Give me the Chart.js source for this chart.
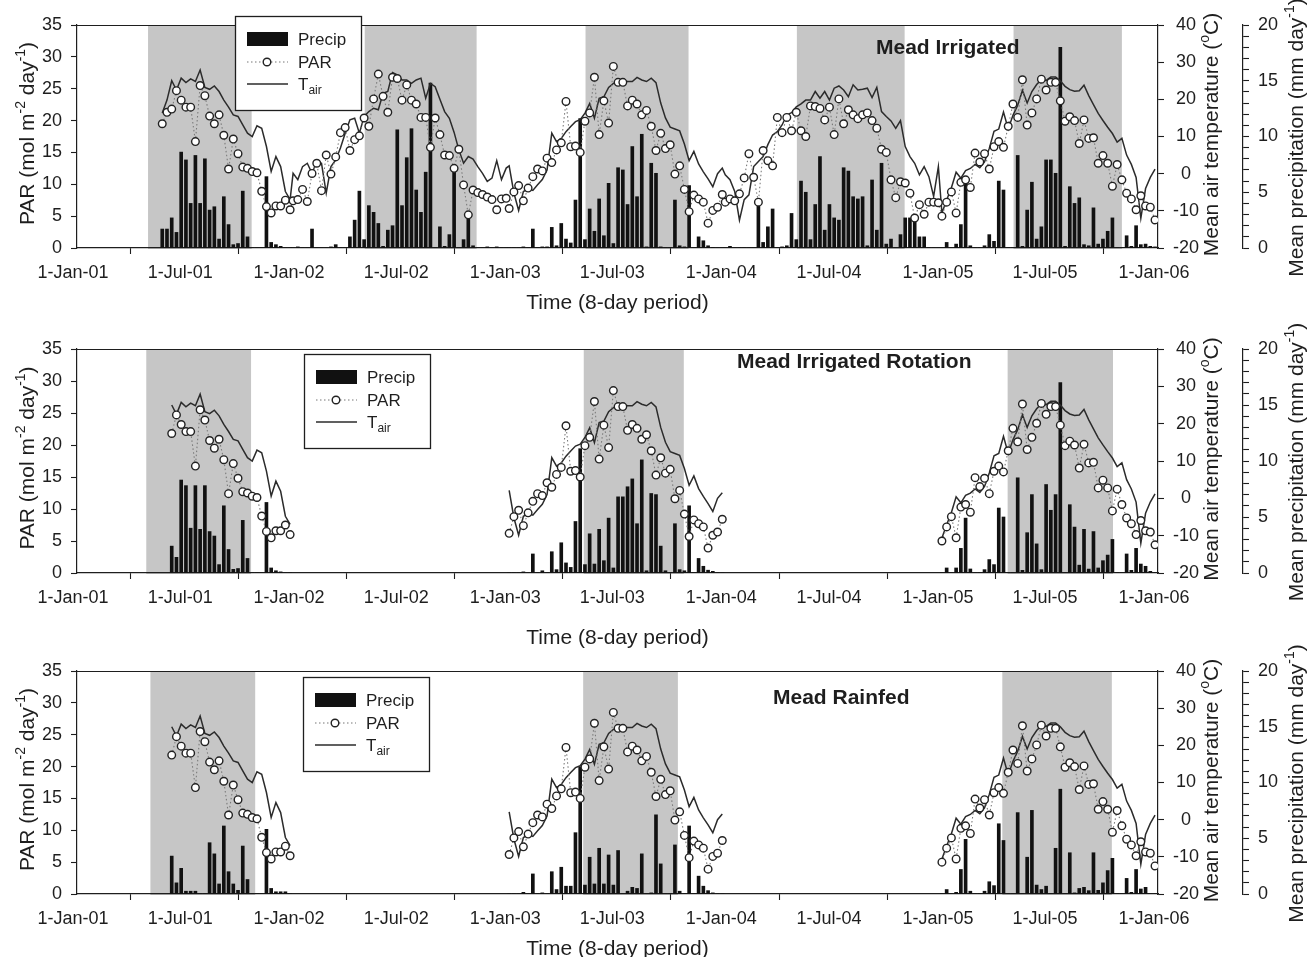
<!DOCTYPE html>
<html>
<head>
<meta charset="utf-8">
<script src="https://cdn.jsdelivr.net/npm/chart.js@4.4.1/dist/chart.umd.min.js"></script>
<style>
  html, body { margin: 0; padding: 0; background: #ffffff; }
  #wrap { position: relative; width: 1316px; height: 957px; overflow: hidden; }
  #wrap canvas { position: absolute; left: 0; top: 0; }
</style>
</head>
<body>
<div id="wrap">
  <canvas id="panel1" width="1316" height="957"></canvas>
  <canvas id="panel2" width="1316" height="957"></canvas>
  <canvas id="panel3" width="1316" height="957"></canvas>
</div>
<script>
// 8-day periods (start day of year)
const periodDoy = [1, 9, 17, 25, 33, 41, 49, 57, 65, 73, 81, 89, 97, 105, 113, 121, 129, 137, 145, 153, 161, 169, 177,
  185, 193, 201, 209, 217, 225, 233, 241, 249, 257, 265, 273, 281, 289, 297, 305, 313, 321, 329, 337, 345, 353, 361];

// x axis ticks
const tickDates = ['2001-01-01', '2001-07-01', '2002-01-01', '2002-07-01', '2003-01-01', '2003-07-01',
  '2004-01-01', '2004-07-01', '2005-01-01', '2005-07-01', '2006-01-01'];
const tickLabels = ['1-Jan-01', '1-Jul-01', '1-Jan-02', '1-Jul-02', '1-Jan-03', '1-Jul-03',
  '1-Jan-04', '1-Jul-04', '1-Jan-05', '1-Jul-05', '1-Jan-06'];

// PAR (mol m-2 day-1)
const par2001 = [null, null, null, null, null, null, null, null, null, null, null, null, null, null, null, null, null, null,
  19.5, 21.3, 21.8, 24.7, 23.2, 22.1, 22.1, 16.7, 25.5, 23.9, 20.7, 19.5, 20.9, 17.7, 12.4, 17.1, 14.8, 12.7,
  12.5, 12.0, 11.8, 8.9, 6.5, 5.5, 6.6, 6.6, 7.5, 6.0];
const par2002 = [7.4, 7.6, 9.2, 7.3, 11.7, 13.3, 9.0, 14.6, 11.6, 14.3, 18.1, 18.9, 15.3, 17.0, 17.6, 20.4, 19.1, 23.4,
  27.3, 23.8, 21.3, 26.8, 26.6, 23.2, 25.6, 23.2, 22.6, 20.5, 20.5, 15.8, 20.4, 17.8, 14.6, 14.5, 12.5, 15.5, 9.9,
  5.2, 9.1, 8.7, 8.4, 8.0, 7.6, 6.0, 7.7, 7.8];
const par2003 = [6.2, 8.8, 9.8, 7.4, 9.4, 11.2, 12.4, 12.1, 14.1, 13.4, 15.4, 16.5, 23.0, 15.9, 16.0, 15.0, 19.9, 21.2,
  26.8, 17.8, 23.1, 19.6, 28.5, 26.0, 26.0, 22.3, 23.2, 22.6, 20.9, 21.6, 19.1, 15.3, 18.0, 15.6, 16.2, 11.6, 12.9,
  9.2, 5.7, 8.3, 7.7, 7.2, 3.9, 5.9, 6.4, 8.4];
const par2004 = [7.2, 7.7, 7.4, 8.5, 11.0, 14.8, 11.1, 7.2, 15.3, 13.7, 12.9, 20.5, 18.1, 20.5, 18.4, 21.3, 18.4, 17.5,
  22.3, 22.2, 21.9, 20.1, 22.1, 17.8, 23.4, 19.5, 21.7, 20.9, 20.3, 20.9, 21.2, 20.0, 18.8, 15.5, 15.0, 10.7, 7.9,
  10.4, 10.2, 8.6, 4.7, 6.8, 5.3, 7.2, 7.2, 7.1];
const par2005 = [5.0, 7.2, 8.8, 5.5, 10.3, 10.7, 9.5, 14.9, 13.5, 14.8, 12.4, 15.9, 16.7, 15.8, 19.1, 22.6, 20.5, 26.4,
  19.3, 21.2, 23.4, 26.5, 24.8, 26.0, 26.0, 23.1, 19.9, 20.6, 20.0, 16.4, 20.1, 17.2, 17.3, 13.3, 14.5, 13.3, 9.7,
  13.1, 10.7, 8.6, 7.7, 6.0, 8.2, 6.6, 6.4, 4.4];

// mean air temperature (deg C)
const tair2001 = [null, null, null, null, null, null, null, null, null, null, null, null, null, null, null, null, null, null,
  16.3, 19.8, 25.0, 22.5, 25.7, 24.5, 25.5, 24.8, 27.9, 23.2, 22.7, 23.6, 22.1, 19.8, 17.9, 15.8, 15.4, 13.1,
  10.9, 10.0, 12.9, 12.2, 7.3, 0.6, 4.6, 1.9, -4.8, -7.0];
const tair2002 = [0.1, -1.6, 1.9, 2.8, 0.1, 3.3, 2.8, -5.2, 1.9, 3.7, 6.9, 10.9, 14.5, 14.9, 10.9, 15.4, 16.7, 17.6,
  17.2, 21.6, 22.1, 27.2, 26.6, 25.2, 25.2, 24.3, 25.2, 25.7, 20.3, 24.3, 23.4, 20.0, 16.7, 14.9, 11.1, 6.4, 2.8,
  4.6, 3.9, 1.9, 0.1, -2.1, -1.2, 3.5, -1.6, 1.5];
const tair2003 = [2.1, -5.2, -9.9, -4.8, -4.1, -4.5, -3.0, -1.6, 1.0, 10.9, 8.6, 9.5, 11.3, 12.7, 14.0, 14.5, 16.3, 18.9,
  14.9, 20.3, 20.7, 23.2, 24.3, 24.5, 25.2, 24.8, 24.8, 25.9, 25.2, 24.8, 25.7, 24.5, 19.0, 15.0, 12.5, 12.0, 11.5,
  8.0, 3.5, 6.0, 2.6, 0.5, -1.4, -3.5, 0.0, 1.5];
const tair2004 = [-0.3, -1.6, -4.8, -12.5, -7.0, -5.7, 1.9, 3.3, 4.6, 7.8, 10.4, 11.3, 13.1, 15.8, 16.4, 18.0, 18.8, 19.8,
  19.8, 22.1, 20.3, 22.1, 19.8, 23.0, 23.6, 22.5, 20.7, 23.9, 22.5, 22.7, 23.0, 20.5, 23.2, 16.7, 15.4, 14.2, 12.2,
  14.3, 7.3, 4.6, 2.8, -0.3, 1.9, -0.8, -6.1, 1.9];
const tair2005 = [-10.6, -7.1, -3.8, 0.4, -1.2, 0.8, 1.4, 2.5, 1.6, 3.2, 6.8, 11.4, 12.0, 16.6, 12.0, 15.7, 18.4, 22.4,
  19.0, 22.1, 24.0, 25.3, 25.1, 26.0, 26.0, 25.0, 23.5, 22.6, 22.2, 22.3, 23.8, 21.0, 18.6, 16.2, 14.3, 12.5, 10.8,
  8.5, 9.5, 5.0, 2.5, -1.0, -12.0, -4.0, -1.0, 1.2];

// mean precipitation (mm day-1), one set per site
const precipIrr2001 = [null, null, null, null, null, null, null, null, null, null, null, null, null, null, null, null, null, null,
  1.7, 1.7, 2.7, 1.4, 8.6, 7.9, 4.0, 8.3, 4.0, 8.0, 3.4, 3.7, 0.8, 4.6, 2.1, 0.3, 0.4, 5.1,
  1.0, 0, 0, 0, 6.4, 0.5, 0.3, 0.15, 0, 0];
const precipIrr2002 = [0, 0.1, 0, 0, 1.7, 0, 0, 0, 0.1, 0.3, 0, 0, 1.0, 2.5, 5.1, 0.75, 3.8, 3.2, 2.2, 0.15, 1.6, 2.0,
  10.6, 3.8, 8.1, 10.7, 5.2, 3.2, 6.8, 14.8, 0, 1.9, 0.15, 1.2, 6.8, 0, 0.75, 2.6, 0.2, 0, 0, 0.1, 0, 0.1, 0, 0];
const precipIrr2003 = [0, 0, 0, 0.1, 0, 1.7, 0, 0.1, 0.1, 1.85, 0.2, 2.2, 0.8, 0.45, 4.3, 11.6, 0.75, 3.5, 1.5, 4.4,
  1.1, 5.8, 0.4, 7.2, 7.0, 3.9, 9.1, 4.6, 10.2, 0.1, 7.6, 6.7, 0.1, 0, 0, 4.3, 0.2, 0.1, 5.6, 0, 1.0, 0.65, 0.2,
  0.05, 0, 0];
const precipIrr2004 = [0, 0.15, 0, 0, 0, 0, 0, 4.1, 0.5, 1.9, 3.5, 0, 0.1, 0.2, 3.1, 0.75, 6.0, 5.0, 0.75, 3.9, 8.2,
  1.6, 3.9, 2.7, 2.5, 7.2, 6.9, 4.6, 4.4, 4.6, 0.2, 6.1, 1.6, 7.6, 0.35, 0.8, 0, 1.2, 2.7, 2.7, 2.5, 1.0, 1.0, 0, 0, 0];
const precipIrr2005 = [0, 0.5, 0, 0.35, 2.1, 6.1, 0.2, 0, 0, 0.2, 1.2, 0.6, 6.0, 5.2, 0, 0, 8.3, 0.15, 3.4, 5.9, 0.8,
  1.9, 7.9, 7.9, 6.7, 18.0, 0.15, 5.5, 4.0, 4.5, 0.3, 0.2, 3.6, 0.35, 0.8, 1.5, 2.7, 0, 0, 1.1, 0.15, 2.0, 0.3,
  0.35, 0.15, 0.1];

const precipRot2001 = [null, null, null, null, null, null, null, null, null, null, null, null, null, null, null, null, null, null, null, null,
  2.4, 1.4, 8.3, 7.8, 4.0, 7.8, 3.9, 7.8, 3.7, 3.3, 0.75, 6.0, 2.1, 0.33, 0.4, 4.7, 1.3, 0, 0, 0, 6.3, 0.45, 0.2,
  0.1, 0, 0];
const precipRot2003 = [0, 0, 0, 0.1, 0, 1.7, 0, 0.2, 0, 1.9, 0.3, 2.7, 0.9, 0.5, 4.6, 11.1, 0.75, 3.5, 0.8, 3.9, 1.1,
  4.9, 0.45, 6.8, 6.8, 7.7, 8.4, 4.4, 10.1, 0.2, 7.1, 7.0, 2.4, 0.2, 0, 4.4, 0.3, 0.2, 6.0, 0, 1.3, 0.6, 0.25,
  0.15, 0, 0];
const precipRot2005 = [0, 0.45, 0, 0.45, 2.2, 4.9, 0.36, 0, 0, 0.3, 1.2, 0.75, 5.8, 5.0, 0, 0, 8.5, 0.24, 3.6, 7.0,
  2.6, 0.3, 7.9, 5.6, 7.0, 17.0, 0, 6.1, 4.1, 0.7, 3.9, 0.35, 3.7, 0.45, 1.1, 1.6, 3.0, 0, 0, 1.7, 0.24, 2.2, 0.8,
  0.6, 0.15, 0];

const precipRain2001 = [null, null, null, null, null, null, null, null, null, null, null, null, null, null, null, null, null, null, null, null,
  3.4, 1.0, 2.3, 0.25, 0.25, 0.25, 0, 0, 4.6, 3.6, 0.9, 6.1, 2.0, 0.9, 0.33, 4.3, 1.3, 0, 0, 0, 5.8, 0.5, 0.2,
  0.2, 0.2, 0];
const precipRain2003 = [0, 0, 0, 0.15, 0, 1.8, 0, 0.1, 0, 2.0, 0.4, 2.4, 0.7, 0.7, 5.5, 11.4, 0.8, 3.3, 0.9, 4.1, 0.9,
  3.5, 0.8, 3.9, 0, 0.25, 0.6, 0.5, 3.6, 0, 0.1, 7.1, 2.7, 0, 0, 4.4, 0.25, 0, 6.1, 0, 1.6, 0.7, 0.3, 0.1, 0, 0];
const precipRain2005 = [0, 0.4, 0, 0.15, 2.2, 4.9, 0.25, 0, 0, 0.25, 1.1, 0.75, 6.3, 4.8, 0, 0, 7.3, 0, 3.3, 7.5, 0.8,
  0.4, 0.7, 0, 4.1, 9.4, 0, 3.7, 0.1, 0.5, 0.6, 0.3, 3.7, 0.33, 1.0, 2.1, 3.2, 0, 0, 1.4, 0.15, 2.2, 0.45, 0.6, 0, 0];

// growing seasons (shaded)
const seasonsIrr = [['2001-05-01', '2001-10-23'], ['2002-05-02', '2002-11-07'], ['2003-05-10', '2003-10-31'],
  ['2004-05-01', '2004-10-30'], ['2005-05-02', '2005-11-01']];
const seasonsRot = [['2001-04-28', '2001-10-22'], ['2003-05-07', '2003-10-23'], ['2005-04-22', '2005-10-17']];
const seasonsRain = [['2001-05-05', '2001-10-29'], ['2003-05-06', '2003-10-13'], ['2005-04-13', '2005-10-15']];

// text
const parTitle = [['PAR (mol m'], ['-2', 'sup'], [' day'], ['-1', 'sup'], [')']];
const tempTitle = [['Mean air temperature ('], ['o', 'sup'], ['C)']];
const precipTitle = [['Mean precipitation (mm day'], ['-1', 'sup'], [')']];
const timeTitle = [['Time (8-day period)']];
const legendLabels = [[['Precip']], [['PAR']], [['T'], ['air', 'sub']]];

const FONT = '"Liberation Sans", Arial, sans-serif';
const INK = '#1e1e1e';

const parByYear = {2001: par2001, 2002: par2002, 2003: par2003, 2004: par2004, 2005: par2005};
const tairByYear = {2001: tair2001, 2002: tair2002, 2003: tair2003, 2004: tair2004, 2005: tair2005};

const panels = [
  {
    canvas: 'panel1', name: 'Mead Irrigated', years: [2001, 2002, 2003, 2004, 2005], first2001: 18,
    precip: {2001: precipIrr2001, 2002: precipIrr2002, 2003: precipIrr2003, 2004: precipIrr2004, 2005: precipIrr2005},
    seasons: seasonsIrr, top: 25, bottom: 248, nameX: 876, nameY: 46, legendX: 235, legendY: 16, timeGap: 53
  },
  {
    canvas: 'panel2', name: 'Mead Irrigated Rotation', years: [2001, 2003, 2005], first2001: 20,
    precip: {2001: precipRot2001, 2003: precipRot2003, 2005: precipRot2005},
    seasons: seasonsRot, top: 349, bottom: 573, nameX: 737, nameY: 360, legendX: 304, legendY: 354, timeGap: 63
  },
  {
    canvas: 'panel3', name: 'Mead Rainfed', years: [2001, 2003, 2005], first2001: 20,
    precip: {2001: precipRain2001, 2003: precipRain2003, 2005: precipRain2005},
    seasons: seasonsRain, top: 671, bottom: 894, nameX: 773, nameY: 696, legendX: 303, legendY: 677, timeGap: 53
  }
];

function dayOf(year, doy) {
  return (Date.UTC(year, 0, doy) - Date.UTC(2001, 0, 1)) / 86400000;
}
function dayOfDate(s) {
  return (Date.parse(s) - Date.UTC(2001, 0, 1)) / 86400000;
}

// points for one panel; a null point breaks the line between years that are not consecutive
function buildSeries(panel, byYear) {
  const pts = [];
  let prev = null;
  panel.years.forEach(yr => {
    if (prev !== null && yr !== prev + 1) pts.push({x: dayOf(yr, 1) - 30, y: null});
    byYear[yr].forEach((v, i) => {
      if (yr === 2001 && i < panel.first2001) return;
      if (v === null) return;
      pts.push({x: dayOf(yr, periodDoy[i]), y: v});
    });
    prev = yr;
  });
  return pts;
}

// text with superscripts / subscripts, centred on (x, y)
function richText(ctx, parts, x, y, size, opts) {
  const o = opts || {};
  const small = Math.round(size * 0.68);
  const weight = o.bold ? 'bold ' : '';
  ctx.save();
  ctx.translate(x, y);
  if (o.rotate) ctx.rotate(o.rotate);
  ctx.fillStyle = INK;
  ctx.textBaseline = 'alphabetic';
  ctx.textAlign = 'left';
  const widths = parts.map(p => {
    ctx.font = weight + (p[1] ? small : size) + 'px ' + FONT;
    return ctx.measureText(p[0]).width;
  });
  const total = widths.reduce((a, b) => a + b, 0);
  let cx = o.align === 'left' ? 0 : -total / 2;
  const base = size * 0.36;
  parts.forEach((p, i) => {
    ctx.font = weight + (p[1] ? small : size) + 'px ' + FONT;
    let dy = base;
    if (p[1] === 'sup') dy -= size * 0.42;
    if (p[1] === 'sub') dy += size * 0.24;
    ctx.fillText(p[0], cx, dy);
    cx += widths[i];
  });
  ctx.restore();
}

function drawLegend(ctx, lx, ly) {
  ctx.save();
  ctx.fillStyle = '#ffffff';
  ctx.fillRect(lx, ly, 126, 94);
  ctx.strokeStyle = INK;
  ctx.lineWidth = 1.3;
  ctx.strokeRect(lx + 0.5, ly + 0.5, 126, 94);
  // Precip swatch
  ctx.fillStyle = '#111111';
  ctx.fillRect(lx + 12, ly + 16, 41, 14);
  // PAR sample
  ctx.strokeStyle = '#777777';
  ctx.lineWidth = 1.1;
  ctx.setLineDash([1.5, 2.5]);
  ctx.beginPath();
  ctx.moveTo(lx + 12, ly + 46);
  ctx.lineTo(lx + 53, ly + 46);
  ctx.stroke();
  ctx.setLineDash([]);
  ctx.beginPath();
  ctx.arc(lx + 32, ly + 46, 3.8, 0, Math.PI * 2);
  ctx.fillStyle = '#ffffff';
  ctx.fill();
  ctx.strokeStyle = '#222222';
  ctx.lineWidth = 1.4;
  ctx.stroke();
  // Tair sample
  ctx.strokeStyle = '#2b2b2b';
  ctx.lineWidth = 1.5;
  ctx.beginPath();
  ctx.moveTo(lx + 12, ly + 68);
  ctx.lineTo(lx + 53, ly + 68);
  ctx.stroke();
  ctx.restore();
  const rows = [23, 46, 68];
  legendLabels.forEach((parts, i) => richText(ctx, parts, lx + 63, ly + rows[i], 17, {align: 'left'}));
}

function makeDecor(panel) {
  return {
    id: 'decor',
    beforeDraw(chart) {
      const {ctx, chartArea: a} = chart;
      const x = chart.scales.x;
      ctx.save();
      ctx.fillStyle = '#c6c6c6';
      panel.seasons.forEach(s => {
        const x0 = x.getPixelForValue(dayOfDate(s[0]));
        const x1 = x.getPixelForValue(dayOfDate(s[1]));
        ctx.fillRect(x0, a.top + 1, x1 - x0, a.bottom - a.top);
      });
      ctx.restore();
    },
    afterDraw(chart) {
      const {ctx, chartArea: a} = chart;
      ctx.save();
      ctx.strokeStyle = INK;
      ctx.lineWidth = 1.2;
      ctx.beginPath();
      ctx.moveTo(a.left, a.top + 0.5);
      ctx.lineTo(a.right, a.top + 0.5);
      ctx.stroke();
      ctx.restore();
      const mid = (a.top + a.bottom) / 2;
      richText(ctx, parTitle, 26, mid - 3, 21, {rotate: -Math.PI / 2});
      richText(ctx, tempTitle, 1210, mid - 2, 21, {rotate: -Math.PI / 2});
      richText(ctx, precipTitle, 1295, mid + 1, 21, {rotate: -Math.PI / 2});
      richText(ctx, timeTitle, (a.left + a.right) / 2, a.bottom + panel.timeGap, 21);
      richText(ctx, [[panel.name]], panel.nameX, panel.nameY, 21, {bold: true, align: 'left'});
      drawLegend(ctx, panel.legendX, panel.legendY);
    }
  };
}

function axisLook(extra) {
  return Object.assign({
    grid: {display: true, drawOnChartArea: false, drawTicks: true, tickLength: 6, tickColor: INK, tickWidth: 1.1},
    border: {display: true, color: INK, width: 1.2}
  }, extra);
}

const tickFont = {family: FONT, size: 18};

panels.forEach(panel => {
  const parPts = buildSeries(panel, parByYear);
  const tairPts = buildSeries(panel, tairByYear);
  const precipPts = buildSeries(panel, panel.precip);

  new Chart(document.getElementById(panel.canvas), {
    type: 'bar',
    data: {
      datasets: [
        {
          type: 'line', label: 'PAR', data: parPts, yAxisID: 'y', order: 0,
          borderColor: '#7a7a7a', borderWidth: 1.1, borderDash: [1.5, 2.5],
          pointRadius: 3.8, pointBackgroundColor: '#ffffff', pointBorderColor: '#222222', pointBorderWidth: 1.4,
          tension: 0, spanGaps: false
        },
        {
          type: 'line', label: 'Tair', data: tairPts, yAxisID: 'yT', order: 1,
          borderColor: '#2b2b2b', borderWidth: 1.5, pointRadius: 0, tension: 0, spanGaps: false
        },
        {
          type: 'bar', label: 'Precip', data: precipPts, yAxisID: 'yP', order: 2,
          backgroundColor: '#111111', barThickness: 3
        }
      ]
    },
    options: {
      responsive: false,
      animation: false,
      devicePixelRatio: 1,
      events: [],
      layout: {padding: {left: 0, right: 0, top: panel.top, bottom: 957 - panel.bottom - 40}},
      plugins: {legend: {display: false}, tooltip: {enabled: false}},
      scales: {
        x: axisLook({
          type: 'linear', min: 0, max: dayOfDate('2006-01-01'), offset: false,
          afterBuildTicks: s => { s.ticks = tickDates.map(d => ({value: dayOfDate(d)})); },
          afterFit: s => { s.height = 40; },
          ticks: {
            callback: (v, i) => tickLabels[i], autoSkip: false, maxRotation: 0, minRotation: 0,
            padding: 8, labelOffset: -4, font: tickFont, color: INK
          }
        }),
        y: axisLook({
          position: 'left', min: 0, max: 35,
          afterFit: s => { s.width = 77; },
          ticks: {stepSize: 5, autoSkip: false, padding: 9, font: tickFont, color: INK}
        }),
        yT: axisLook({
          position: 'right', weight: 0, min: -20, max: 40,
          afterFit: s => { s.width = 85; },
          ticks: {stepSize: 10, autoSkip: false, padding: 9, crossAlign: 'center', font: tickFont, color: INK}
        }),
        yP: axisLook({
          position: 'right', weight: 1, min: 0, max: 20,
          afterFit: s => { s.width = 73; },
          ticks: {
            stepSize: 1, autoSkip: false, padding: 9, font: tickFont, color: INK,
            callback: v => (v % 5 === 0 ? String(v) : '')
          }
        })
      }
    },
    plugins: [makeDecor(panel)]
  });
});
</script>
</body>
</html>
